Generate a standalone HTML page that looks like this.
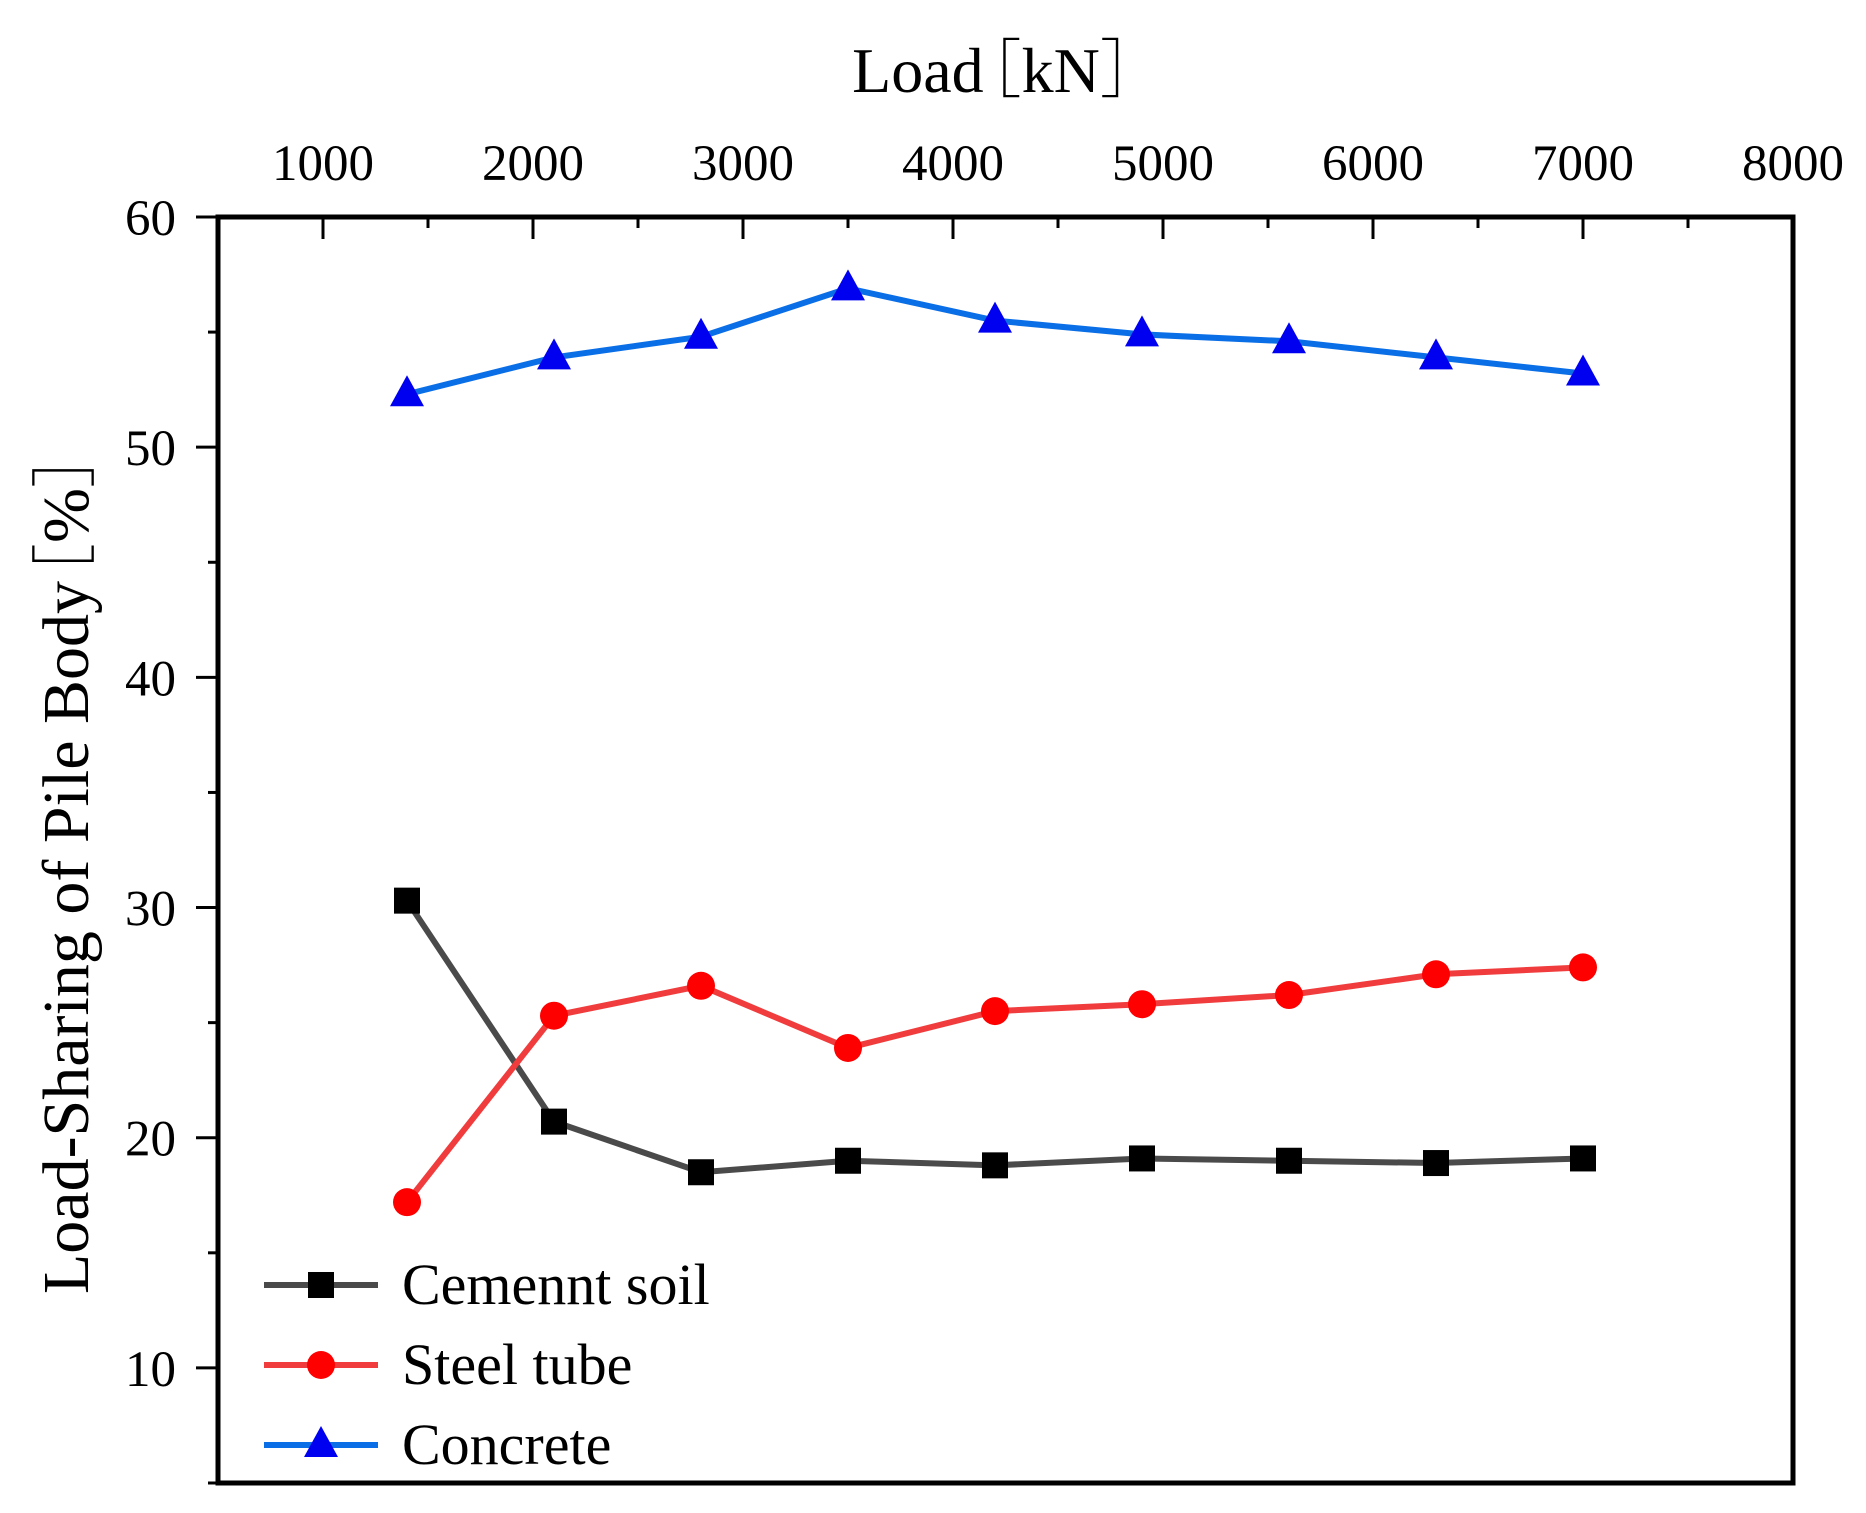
<!DOCTYPE html>
<html><head><meta charset="utf-8"><style>
html,body{margin:0;padding:0;background:#fff;}
svg{display:block;font-family:"Liberation Serif","Noto Serif CJK SC",serif;}
</style></head><body>
<svg id="chart" width="1866" height="1513" viewBox="0 0 1866 1513" xmlns="http://www.w3.org/2000/svg"></svg>
<script>
const loads=[1400,2100,2800,3500,4200,4900,5600,6300,7000];
const cementSoil=[30.3,20.7,18.5,19.0,18.8,19.1,19.0,18.9,19.1];
const steelTube=[17.2,25.3,26.6,23.9,25.5,25.8,26.2,27.1,27.4];
const concrete=[52.3,53.9,54.8,56.9,55.5,54.9,54.6,53.9,53.2];
const xTicks=[1000,2000,3000,4000,5000,6000,7000,8000];
const yTicks=[10,20,30,40,50,60];
const seriesNames=["Cemennt soil","Steel tube","Concrete"];

const L=218,R=1793,T=217,B=1483;
const X0=500,X1=8000,Y0=5,Y1=60;
const xs=v=>L+(v-X0)/(X1-X0)*(R-L);
const ys=v=>B-(v-Y0)/(Y1-Y0)*(B-T);
const svg=document.getElementById('chart');
const NS='http://www.w3.org/2000/svg';
function mk(tag,attrs,parent){const e=document.createElementNS(NS,tag);for(const k in attrs)e.setAttribute(k,attrs[k]);(parent||svg).appendChild(e);return e;}

let frame=mk('rect',{x:L,y:T,width:R-L,height:B-T,fill:'none',stroke:'#000','stroke-width':5});



for(let v=X0;v<=X1;v+=500){
  const major=v%1000===0;
  const t=mk('line',{x1:xs(v),x2:xs(v),y1:T,y2:T+(major?22:11),stroke:'#000','stroke-width':3});
  
  
}
xTicks.forEach(v=>{
  const t=mk('text',{x:xs(v),y:180,'font-size':51,'text-anchor':'middle'});
  t.textContent=v;
  
  
});
for(let v=Y0;v<=Y1;v+=5){
  const major=v%10===0;
  const t=mk('line',{x1:L-(major?22:10),x2:L,y1:ys(v),y2:ys(v),stroke:'#000','stroke-width':3});
  
  
}
yTicks.forEach(v=>{
  const t=mk('text',{x:176,y:ys(v)+18,'font-size':51,'text-anchor':'end'});
  t.textContent=v;
  
  
});
let xt=mk('text',{x:1008,y:92,'font-size':64,'text-anchor':'middle'});
xt.innerHTML='Load<tspan dx="-26">［kN］</tspan>';


let yt=mk('text',{x:0,y:0,'font-size':66,'text-anchor':'middle',transform:'translate(88,858) rotate(-90)'});
yt.innerHTML='Load-Sharing of Pile Body<tspan dx="-28">［%］</tspan>';



function marker(type,cx,cy,fill,g){
  let m;
  if(type==='sq') m=mk('rect',{x:cx-13,y:cy-13,width:26,height:26,fill:fill},g);
  else if(type==='ci') m=mk('circle',{cx:cx,cy:cy,r:14,fill:fill},g);
  else m=mk('polygon',{points:`${cx},${cy-19} ${cx+17},${cy+12} ${cx-17},${cy+12}`,fill:fill},g);
  return m;
}
const series=[
  {vals:cementSoil,line:'#4a4a4a',mark:'#000',type:'sq',name:'cement-soil'},
  {vals:steelTube,line:'#f03c3c',mark:'#f00',type:'ci',name:'steel-tube'},
  {vals:concrete,line:'#0a6ee6',mark:'#0000f0',type:'tr',name:'concrete'}
];
series.forEach((s,i)=>{
  const g=mk('g',{});
  
  
  const pl=mk('polyline',{points:loads.map((x,j)=>xs(x)+','+ys(s.vals[j])).join(' '),fill:'none',stroke:s.line,'stroke-width':6},g);
  
  
  loads.forEach((x,j)=>{
    const m=marker(s.type,xs(x),ys(s.vals[j]),s.mark,g);
    
    
  });
  const ly=1285+i*80;
  const lg=mk('g',{});
  
  
  mk('line',{x1:264,x2:378,y1:ly,y2:ly,stroke:s.line,'stroke-width':6},lg);
  marker(s.type,321,ly,s.mark,lg);
  const lt=mk('text',{x:402,y:ly+19,'font-size':58},lg);
  lt.textContent=seriesNames[i];
});
</script>
</body></html>
